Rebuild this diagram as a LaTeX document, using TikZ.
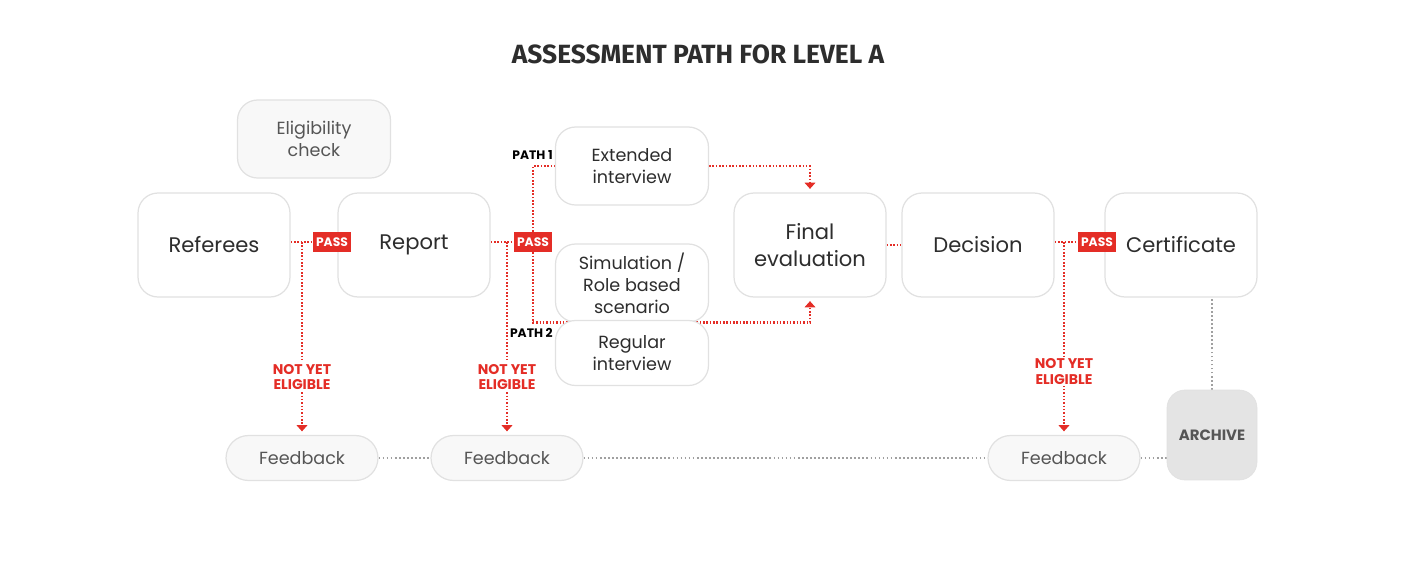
\documentclass[tikz,border=0pt]{standalone}
\usepackage{fontspec}
\setmainfont{Poppins}
\newfontfamily\titlefont{Fira Sans}
\usetikzlibrary{arrows.meta,backgrounds}
\definecolor{passred}{RGB}{228, 45, 38}
\definecolor{boxline}{RGB}{225, 225, 225}
\definecolor{boxfill}{RGB}{248, 248, 248}
\definecolor{archfill}{RGB}{228, 228, 228}
\definecolor{darktext}{RGB}{45, 45, 45}
\definecolor{softtext}{RGB}{85, 85, 85}
\definecolor{linegray}{RGB}{160, 160, 160}

\tikzset{
  bigbox/.style={draw=boxline, line width=0.7pt, fill=white, rounded corners=0.4cm,
    minimum width=3.04cm, minimum height=2.08cm, align=center, inner sep=0pt,
    text=darktext, font=\fontsize{12}{15}\selectfont},
  smallbox/.style={bigbox, minimum width=3.06cm, minimum height=1.56cm,
    font=\fontsize{10}{12.5}\selectfont},
  graybox/.style={smallbox, fill=boxfill, text=softtext},
  fbbox/.style={draw=boxline, line width=0.7pt, fill=boxfill, rounded corners=0.45cm,
    minimum width=3.04cm, minimum height=0.9cm, inner sep=0pt, text=softtext,
    font=\fontsize{10}{12}\selectfont},
  archbox/.style={draw=boxline, fill=archfill, rounded corners=0.36cm,
    minimum size=1.8cm, inner sep=0pt, text=softtext, font=\fontsize{8.5}{9}\selectfont\bfseries},
  passtag/.style={fill=passred, text=white, minimum width=0.76cm, minimum height=0.4cm,
    inner sep=0pt, font=\fontsize{7}{7}\selectfont\bfseries},
  pathtag/.style={anchor=east, inner sep=0pt, font=\fontsize{7}{8}\selectfont\bfseries},
  nye/.style={fill=white, text=passred, align=center, inner sep=1pt,
    font=\fontsize{8}{9}\selectfont\bfseries},
  redline/.style={passred, line width=1.4pt, dash pattern=on 0.9pt off 1pt},
  grayline/.style={linegray, line width=1pt, dash pattern=on 1pt off 1.3pt},
  tip/.style={-{Triangle[width=6pt,length=3.5pt]}, shorten >=2pt}
}

\begin{document}
\begin{tikzpicture}[x=0.02cm, y=-0.02cm]
  \useasboundingbox (0,0) rectangle (1428,572);

  \node[text=darktext, font=\titlefont\fontsize{15}{18}\selectfont\bfseries] (title) at (698,54) {ASSESSMENT PATH FOR LEVEL A};

  % top row
  \node[graybox] (elig) at (314,139) {Eligibility\\check};
  \node[bigbox] (ref) at (214,245) {Referees};
  \node[bigbox] (rep) at (414,245) {Report};
  \node[smallbox] (ext) at (632,166) {Extended\\interview};
  \node[smallbox] (sim) at (632,283) {Simulation /\\Role based\\scenario};
  \node[smallbox, minimum height=1.3cm] (reg) at (632,353) {Regular\\interview};
  \node[bigbox] (final) at (810,245) {Final\\evaluation};
  \node[bigbox] (dec) at (978,245) {Decision};
  \node[bigbox] (cert) at (1181,245) {Certificate};

  % pass tags
  \node[passtag] (pass1) at (332,242) {PASS};
  \node[passtag] (pass2) at (533,242) {PASS};
  \node[passtag] (pass3) at (1097,242) {PASS};

  \node[pathtag] (path1) at (553,155) {PATH 1};
  \node[pathtag] (path2) at (553,333) {PATH 2};

  % bottom row
  \node[fbbox] (fb1) at (302,458) {Feedback};
  \node[fbbox] (fb2) at (507,458) {Feedback};
  \node[fbbox] (fb3) at (1064,458) {Feedback};
  \node[archbox] (arch) at (1212,435) {ARCHIVE};

  \begin{scope}[on background layer]
    \draw[redline] (ref.east |- pass1.west) -- (pass1.west);
    \draw[redline, tip] (fb1.north |- pass1.west) -- node[nye, pos=0.7] (nye1) {NOT YET\\ELIGIBLE} (fb1.north);
    \draw[redline] (rep.east |- pass2.west) -- (pass2.west);
    \draw[redline, tip] (fb2.north |- pass2.west) -- node[nye, pos=0.7] (nye2) {NOT YET\\ELIGIBLE} (fb2.north);
    \draw[redline] (pass2.north) |- (ext.west);
    \draw[redline, tip] (pass2.south) |- (final.south |- sim.south) -- (final.south);
    \draw[redline, tip] (ext.east) -| (final.north);
    \draw[redline] (final.east) -- (dec.west);
    \draw[redline] (dec.east |- pass3.west) -- (pass3.west);
    \draw[redline, tip] (fb3.north |- pass3.west) -- node[nye, pos=0.67] (nye3) {NOT YET\\ELIGIBLE} (fb3.north);

    \draw[grayline] (fb1.east) -- (fb2.west);
    \draw[grayline] (fb2.east) -- (fb3.west);
    \draw[grayline] (fb3.east) -- (fb3.east -| arch.west);
    \draw[grayline] (arch.north) -- (arch.north |- cert.south);
  \end{scope}
\end{tikzpicture}
\end{document}
